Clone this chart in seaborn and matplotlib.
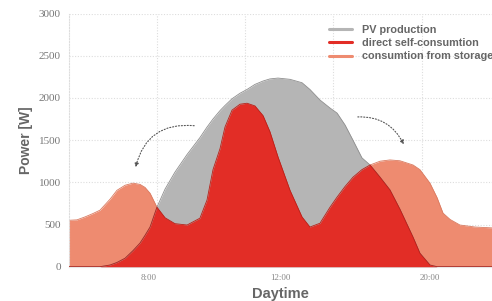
import numpy as np
import pandas as pd
import seaborn as sns
import matplotlib
matplotlib.use("Agg")
import matplotlib.pyplot as plt
from matplotlib.lines import Line2D

# ---- data (hour of day, watts) ----
hours = [0.00, 0.45, 0.91, 1.36, 1.76, 2.33, 2.72, 3.18, 3.63, 4.03, 4.31, 4.60,
         4.99, 5.45, 6.01, 6.70, 7.43, 7.83, 8.17, 8.57, 8.85, 9.25, 9.70, 10.10,
         10.55, 11.01, 11.40, 11.86, 12.54, 13.22, 13.67, 14.24, 14.81, 15.21,
         15.66, 16.11, 16.62, 17.08, 17.65, 18.21, 18.78, 19.52, 19.91, 20.48,
         20.88, 21.22, 21.62, 22.18, 23.04, 24.00]
pv_production = [0, 0, 0, 0, 0, 20, 50, 100, 190, 280, 370, 470,
                 705, 920, 1120, 1330, 1530, 1654, 1750, 1850, 1910, 1990, 2055, 2100,
                 2160, 2200, 2225, 2235, 2220, 2180, 2100, 1975, 1880, 1820,
                 1680, 1500, 1290, 1205, 1060, 910, 680, 350, 160, 20,
                 0, 0, 0, 0, 0, 0]
direct_self = [0, 0, 0, 0, 0, 20, 50, 100, 190, 280, 370, 470,
               705, 580, 510, 494, 575, 790, 1150, 1400, 1655, 1855, 1925, 1937,
               1905, 1790, 1600, 1300, 905, 590, 470, 515, 705, 825,
               950, 1060, 1150, 1205, 1060, 910, 680, 350, 160, 20,
               0, 0, 0, 0, 0, 0]
from_storage = [550, 555, 590, 630, 670, 800, 905, 965, 990, 975, 940, 870,
                705, 580, 510, 494, 575, 790, 1150, 1400, 1655, 1855, 1925, 1937,
                1905, 1790, 1600, 1300, 905, 590, 470, 515, 705, 825,
                950, 1060, 1150, 1205, 1250, 1265, 1255, 1205, 1150, 990,
                820, 635, 560, 494, 470, 460]

series_labels = ["PV production", "direct self-consumtion", "consumtion from storage"]
tick_hours = [4.5, 12.0, 20.5]
tick_labels = ["8:00", "12:00", "20:00"]
grid_hours = [5, 10, 15, 20]
y_ticks = [0, 500, 1000, 1500, 2000, 2500, 3000]
# curved arrows (start -> end) in data units
arrow_left = [(7.26, 1667), (3.74, 1146)]
arrow_right = [(16.23, 1773), (19.06, 1418)]

df = pd.DataFrame({"hour": hours, "pv": pv_production,
                   "direct": direct_self, "storage": from_storage})

c_gray, c_red, c_salmon = "#b5b5b5", "#e22d26", "#ee8b70"
e_gray, e_red, e_salmon = "#8e8e8e", "#b82018", "#d97a60"

sns.set_style("white")
plt.rcParams["font.family"] = ["Liberation Sans", "DejaVu Sans"]

fig = plt.figure(figsize=(4.92, 3.01), dpi=100)
ax = fig.add_axes([69 / 492, 34.3 / 301, 423 / 492, 253.2 / 301])

ax.fill_between(df["hour"], 0, df["storage"], color=c_salmon, lw=0, zorder=2)
ax.fill_between(df["hour"], 0, df["pv"], color=c_gray, lw=0, zorder=3)
ax.fill_between(df["hour"], 0, df["direct"], color=c_red, lw=0, zorder=4)
sns.lineplot(data=df, x="hour", y="storage", ax=ax, color=e_salmon, lw=0.6, zorder=2.5)
sns.lineplot(data=df, x="hour", y="pv", ax=ax, color=e_gray, lw=0.6, zorder=3.5)
sns.lineplot(data=df, x="hour", y="direct", ax=ax, color=e_red, lw=0.6, zorder=4.5)

ax.set_xlim(0, 24)
ax.set_ylim(0, 3000)

ax.set_yticks(y_ticks)
ax.set_yticklabels([str(v) for v in y_ticks], family="Liberation Serif",
                   fontsize=8, color="#777777")
ax.set_xticks(grid_hours)
ax.set_xticklabels([])
ax.set_xticks(tick_hours, minor=True)
ax.set_xticklabels(tick_labels, minor=True, family="Liberation Serif",
                   fontsize=6.5, color="#888888")
ax.tick_params(axis="both", which="both", length=0)
ax.tick_params(axis="y", pad=6)
ax.tick_params(axis="x", which="minor", pad=5)

ax.grid(True, which="major", axis="both", color="#dddddd", lw=0.8, ls=(0, (1, 1.5)))
ax.set_axisbelow(True)
for s in ["top", "right"]:
    ax.spines[s].set_visible(False)
ax.spines["left"].set_color("#dddddd")
ax.spines["left"].set_linestyle((0, (1, 1.5)))
ax.spines["left"].set_linewidth(0.8)
ax.spines["bottom"].set_color("#e8e8e8")
ax.spines["bottom"].set_linewidth(0.8)

ax.set_xlabel("Daytime", fontsize=10.5, fontweight="bold", color="#666666", labelpad=4)
ax.set_ylabel("Power [W]", fontsize=10, fontweight="bold", color="#666666", labelpad=4)

for (s, e), rad in [(arrow_left, 0.45), (arrow_right, -0.35)]:
    ax.annotate("", xy=e, xytext=s,
                arrowprops=dict(arrowstyle="-|>", color="#555555", lw=0.8, ls=":",
                                mutation_scale=6,
                                connectionstyle=f"arc3,rad={rad}"), zorder=6)

handles = [Line2D([], [], color=c, lw=2.2) for c in (c_gray, c_red, c_salmon)]
leg = ax.legend(handles, series_labels, loc="upper left",
                bbox_to_anchor=(0.605, 0.972), frameon=False, fontsize=7.8,
                handlelength=2.1, handletextpad=0.9, labelspacing=0.3,
                borderaxespad=0)
for t in leg.get_texts():
    t.set_color("#666666")
    t.set_fontweight("bold")

fig.savefig("out.png", dpi=100)
